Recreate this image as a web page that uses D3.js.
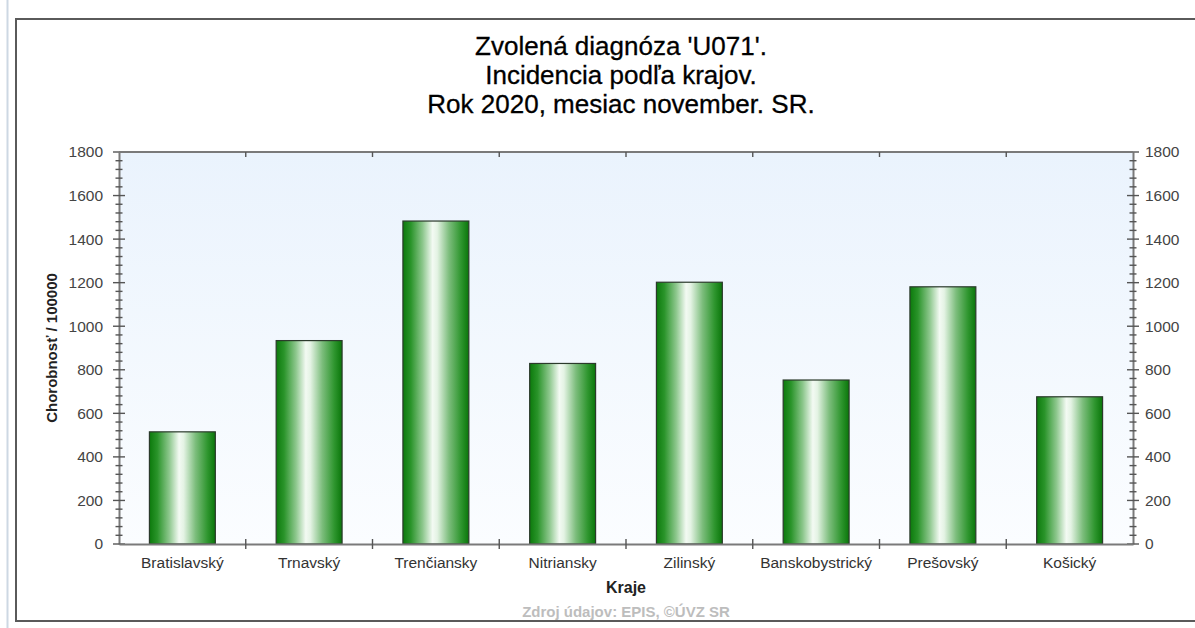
<!DOCTYPE html>
<html><head><meta charset="utf-8">
<script src="https://cdnjs.cloudflare.com/ajax/libs/d3/7.8.5/d3.min.js"></script>
<style>body{margin:0;background:#fff}svg{display:block}</style>
</head><body>
<script>
const titleLines = ["Zvolená diagnóza 'U071'.", "Incidencia podľa krajov.", "Rok 2020, mesiac november. SR."];
const categories = ["Bratislavský","Trnavský","Trenčiansky","Nitriansky","Zilinský","Banskobystrický","Prešovský","Košický"];
const values = [515, 934, 1483, 829, 1202, 753, 1181, 676];
const yTicks = [0,200,400,600,800,1000,1200,1400,1600,1800];
const yTitle = "Chorobnosť / 100000";
const xTitle = "Kraje";
const source = "Zdroj údajov: EPIS, ©ÚVZ SR";

const W = 1195, H = 628;
const m = {left:119, right:1133, top:152, bottom:544};
const svg = d3.select("body").append("svg").attr("width",W).attr("height",H);
const defs = svg.append("defs");
const bg = defs.append("linearGradient").attr("id","bg").attr("x1",0).attr("y1",0).attr("x2",0).attr("y2",1);
bg.append("stop").attr("offset","0%").attr("stop-color","#eaf3fd");
bg.append("stop").attr("offset","100%").attr("stop-color","#fbfdff");
const bar = defs.append("linearGradient").attr("id","bar").attr("x1",0).attr("y1",0).attr("x2",1).attr("y2",0);
[["0%","#0c7a0c"],["12%","#2a942a"],["30%","#8dc78d"],["45%","#f3faf3"],["52%","#e4f3e4"],["70%","#7cbd7c"],["88%","#2f962f"],["100%","#0a760a"]]
 .forEach(([o,c])=>bar.append("stop").attr("offset",o).attr("stop-color",c));

// page decorations
svg.append("line").attr("x1",7.5).attr("x2",7.5).attr("y1",0).attr("y2",H).attr("stroke","#cdd8e3").attr("stroke-width",2);
svg.append("rect").attr("x",16).attr("y",19).attr("width",1200).attr("height",602)
  .attr("fill","#fff").attr("stroke","#5a5a5a").attr("stroke-width",2);

const x = d3.scaleBand().domain(categories).range([m.left,m.right]).paddingInner(0.48).paddingOuter(0.24);
const xb = d3.scaleBand().domain(categories).range([m.left,m.right]).padding(0);
const y = d3.scaleLinear().domain([0,1800]).range([m.bottom,m.top]);

svg.append("rect").attr("x",m.left).attr("y",m.top).attr("width",m.right-m.left).attr("height",m.bottom-m.top).attr("fill","url(#bg)");

// title
svg.append("g").selectAll("text").data(titleLines).join("text")
  .attr("x",621).attr("y",(d,i)=>55+i*29).attr("text-anchor","middle")
  .attr("font-family","Liberation Sans, Arial, sans-serif").attr("font-size",26).attr("fill","#000")
  .attr("stroke","#000").attr("stroke-width",0.3).text(d=>d);

// bars
svg.append("g").selectAll("rect").data(values).join("rect")
  .attr("x",(d,i)=>x(categories[i])).attr("width",x.bandwidth())
  .attr("y",d=>y(d)).attr("height",d=>y(0)-y(d))
  .attr("fill","url(#bar)").attr("stroke","#2b3a2b").attr("stroke-width",1.2);

const font = "Liberation Sans, Arial, sans-serif";
// axes
const axisColor = "#7a7a7a";
const minor = d3.range(0,1801,40);
function yAxis(gen, xpos, side){
  const g = svg.append("g").attr("transform",`translate(${xpos},0)`);
  g.call(gen(y).tickValues(yTicks).tickSize(0).tickPadding(side<0?16:12).tickFormat(d3.format("d")));
  g.select(".domain").attr("stroke",axisColor).attr("stroke-width",2);
  g.selectAll("text").attr("font-family",font).attr("font-size",15.5).attr("fill","#444");
  g.selectAll("line.mn").data(minor).join("line").attr("class","mn")
    .attr("x1",d=>yTicks.includes(d)?-6:-3.5).attr("x2",d=>yTicks.includes(d)?6:3.5)
    .attr("y1",d=>y(d)).attr("y2",d=>y(d)).attr("stroke","#555").attr("stroke-width",1.4);
}
yAxis(d3.axisLeft, m.left, -1);
yAxis(d3.axisRight, m.right, 1);

const bounds = categories.map(c=>xb(c)).slice(1);
const gb = svg.append("g").attr("transform",`translate(0,${m.bottom})`);
gb.call(d3.axisBottom(xb).tickSize(0).tickPadding(13));
gb.select(".domain").attr("stroke",axisColor).attr("stroke-width",2);
gb.selectAll("text").attr("font-family",font).attr("font-size",15.5).attr("fill","#333");
gb.selectAll("line.b").data(bounds).join("line").attr("class","b")
  .attr("x1",d=>d).attr("x2",d=>d).attr("y1",-5).attr("y2",5).attr("stroke","#555").attr("stroke-width",1.4);
const gt = svg.append("g").attr("transform",`translate(0,${m.top})`);
gt.append("line").attr("x1",m.left).attr("x2",m.right).attr("stroke",axisColor).attr("stroke-width",2);
gt.selectAll("line.b").data(bounds).join("line").attr("class","b")
  .attr("x1",d=>d).attr("x2",d=>d).attr("y1",0).attr("y2",5).attr("stroke","#555").attr("stroke-width",1.4);

svg.append("text").attr("transform",`translate(57,${(m.top+m.bottom)/2}) rotate(-90)`).attr("text-anchor","middle")
  .attr("font-family",font).attr("font-weight","bold").attr("font-size",15).attr("fill","#222").text(yTitle);
svg.append("text").attr("x",626).attr("y",593).attr("text-anchor","middle")
  .attr("font-family",font).attr("font-weight","bold").attr("font-size",16).attr("fill","#222").text(xTitle);
svg.append("text").attr("x",626).attr("y",617).attr("text-anchor","middle")
  .attr("font-family",font).attr("font-weight","bold").attr("font-size",15).attr("fill","#bdbdbd").text(source);
</script>
</body></html>
